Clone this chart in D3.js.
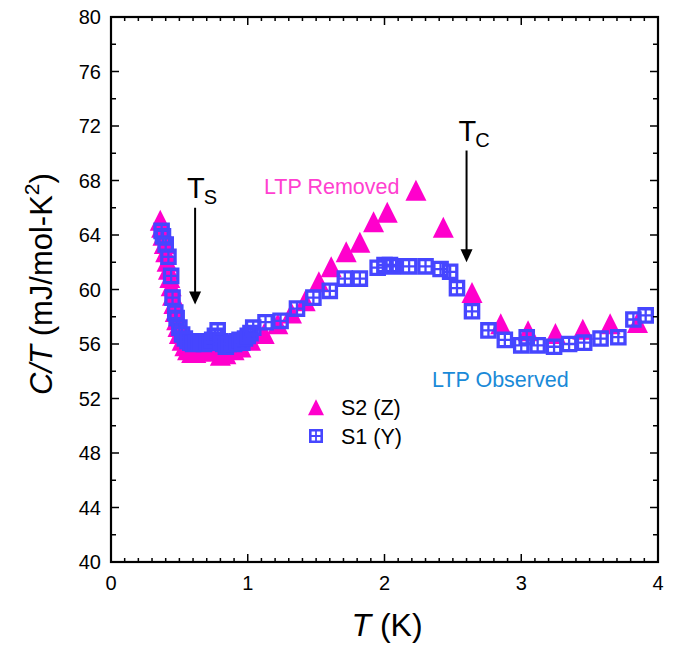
<!DOCTYPE html>
<html><head><meta charset="utf-8">
<script src="https://cdn.jsdelivr.net/npm/d3@7"></script>
<style>body{margin:0;background:#fff}svg{display:block;font-family:"Liberation Sans",Arial,sans-serif}</style>
</head><body>
<svg id="c" width="676" height="646"></svg>
<script>
const s2T = [0.36,0.37,0.38,0.39,0.40,0.41,0.42,0.43,0.44,0.45,0.46,0.47,0.48,0.49,0.50,0.52,0.54,0.56,0.59,0.62,0.66,0.70,0.75,0.80,0.84,0.90,0.95,1.02,1.12,1.22,1.32,1.42,1.52,1.61,1.72,1.82,1.92,2.02,2.23,2.43,2.64,2.85,3.05,3.25,3.45,3.65,3.85];
const s2C = [65.0,64.5,63.9,63.3,62.7,62.0,61.4,60.8,60.2,59.5,58.9,58.3,57.7,57.2,56.7,56.2,55.8,55.5,55.3,55.3,55.4,55.5,55.4,55.1,55.2,55.5,55.7,56.2,56.7,57.4,58.2,59.1,60.5,61.6,62.7,63.4,64.9,65.6,67.2,64.5,59.7,57.4,56.9,56.7,57.0,57.4,57.5];
const s1T = [0.37,0.38,0.40,0.42,0.44,0.45,0.47,0.48,0.50,0.52,0.54,0.56,0.58,0.60,0.62,0.64,0.66,0.68,0.70,0.72,0.74,0.76,0.78,0.80,0.82,0.84,0.86,0.88,0.90,0.92,0.94,0.96,0.98,1.00,1.02,1.04,1.13,1.24,1.36,1.48,1.60,1.71,1.82,1.95,2.00,2.04,2.06,2.18,2.30,2.41,2.48,2.53,2.64,2.76,2.88,3.00,3.04,3.12,3.24,3.35,3.46,3.58,3.71,3.82,3.91];
const s1C = [64.3,63.9,63.3,62.4,61.0,59.4,58.3,57.9,57.2,56.7,56.4,56.2,56.1,56.0,56.1,56.2,56.1,56.0,56.2,56.1,56.3,56.6,57.0,56.2,56.0,55.8,56.0,56.1,56.0,56.2,56.3,56.1,56.4,56.6,56.8,57.2,57.6,57.7,58.6,59.4,59.9,60.8,60.8,61.6,61.8,61.8,61.7,61.7,61.7,61.5,61.3,60.1,58.4,57.0,56.3,55.9,56.5,55.9,55.8,56.0,56.1,56.4,56.5,57.8,58.1];
const xTicks = [0,1,2,3,4];
const yTicks = [40,44,48,52,56,60,64,68,72,76,80];
const seriesNames = ["S2 (Z)","S1 (Y)"];
const annotations = [{label:"T",sub:"S",T:0.615,top:66.0,tip:58.9},{label:"T",sub:"C",T:2.60,top:70.2,tip:62.0}];

const svg = d3.select("#c");
const L=111,R=658,Tp=17,B=562;
const x = d3.scaleLinear().domain([0,4]).range([L,R]);
const y = d3.scaleLinear().domain([40,80]).range([B,Tp]);
const MAG="#ff00cc", BLUE="#4646ff";

const tri = (w,h)=>`M0,${-h*0.55}L${w/2},${h*0.45}L${-w/2},${h*0.45}Z`;
svg.append("g").selectAll("path").data(s2T.map((t,i)=>[t,s2C[i]])).join("path")
  .attr("d",tri(21,21)).attr("fill",MAG)
  .attr("transform",d=>`translate(${x(d[0])},${y(d[1])})`);

function sq(s,b,c){
  const o=s, i=s-b, hc=c/2;
  let p=`M${-o},${-o}H${o}V${o}H${-o}Z`;
  const holes=[[-i,-i,-hc,-hc],[hc,-i,i,-hc],[-i,hc,-hc,i],[hc,hc,i,i]];
  holes.forEach(([x0,y0,x1,y1])=>{p+=`M${x0},${y0}H${x1}V${y1}H${x0}Z`;});
  return p;
}
svg.append("g").selectAll("path").data(s1T.map((t,i)=>[t,s1C[i]])).join("path")
  .attr("d",sq(8.3,3.3,2.3)).attr("fill",BLUE).attr("fill-rule","evenodd")
  .attr("transform",d=>`translate(${x(d[0])},${y(d[1])})`);

const ax=svg.append("g");
const minorX=d3.range(0,41).map(v=>v/10), minorY=d3.range(40,81,2);
minorX.forEach(v=>{const maj=Math.abs(v-Math.round(v))<1e-6;const len=maj?8:4;
  ax.append("line").attr("x1",x(v)).attr("x2",x(v)).attr("y1",B).attr("y2",B-len).attr("stroke","#000").attr("stroke-width",1.5);
  ax.append("line").attr("x1",x(v)).attr("x2",x(v)).attr("y1",Tp).attr("y2",Tp+len).attr("stroke","#000").attr("stroke-width",1.5);});
minorY.forEach(v=>{const maj=v%4===0;const len=maj?8:5;
  ax.append("line").attr("y1",y(v)).attr("y2",y(v)).attr("x1",L).attr("x2",L+len).attr("stroke","#000").attr("stroke-width",1.5);
  ax.append("line").attr("y1",y(v)).attr("y2",y(v)).attr("x1",R).attr("x2",R-len).attr("stroke","#000").attr("stroke-width",1.5);});
ax.append("rect").attr("x",L).attr("y",Tp).attr("width",R-L).attr("height",B-Tp).attr("fill","none").attr("stroke","#000").attr("stroke-width",2.2);

svg.append("g").selectAll("text").data(xTicks).join("text")
  .attr("x",d=>x(d)).attr("y",B+28).attr("text-anchor","middle").attr("font-size",20).text(d=>d);
svg.append("g").selectAll("text").data(yTicks).join("text")
  .attr("x",L-10).attr("y",d=>y(d)+7).attr("text-anchor","end").attr("font-size",20).text(d=>d);

const xt=svg.append("text").attr("x",387).attr("y",636).attr("text-anchor","middle").attr("font-size",32);
xt.append("tspan").attr("font-style","italic").text("T");
xt.append("tspan").text(" (K)");
const yt=svg.append("text").attr("transform","translate(52,284) rotate(-90)").attr("text-anchor","middle").attr("font-size",31);
yt.append("tspan").attr("font-style","italic").text("C/T");
yt.append("tspan").text(" (mJ/mol-K");
yt.append("tspan").attr("font-size",21).attr("dy",-13).text("2");
yt.append("tspan").attr("dy",13).text(")");

annotations.forEach(a=>{
  const ax0=x(a.T), yt0=y(a.top), yt1=y(a.tip);
  const t=svg.append("text").attr("x",ax0-8).attr("y",yt0-10).attr("font-size",29);
  t.append("tspan").text(a.label);
  t.append("tspan").attr("font-size",20).attr("dx",-1).attr("dy",6).text(a.sub);
  svg.append("line").attr("x1",ax0).attr("x2",ax0).attr("y1",yt0).attr("y2",yt1-10).attr("stroke","#000").attr("stroke-width",2);
  svg.append("path").attr("d",`M${ax0-6},${yt1-13}L${ax0+6},${yt1-13}L${ax0},${yt1}Z`).attr("fill","#000");
});
svg.append("text").attr("x",264).attr("y",194).attr("font-size",21.5).attr("fill","#ff40d0").text("LTP Removed");
svg.append("text").attr("x",432).attr("y",387).attr("font-size",21.5).attr("fill","#1a8ad8").text("LTP Observed");

const lg=svg.append("g");
lg.append("path").attr("d",tri(16,16)).attr("fill",MAG).attr("transform","translate(316,408)");
lg.append("text").attr("x",341).attr("y",415).attr("font-size",21.5).text(seriesNames[0]);
lg.append("path").attr("d",sq(7,2.6,1.8)).attr("fill",BLUE).attr("fill-rule","evenodd").attr("transform","translate(316,436)");
lg.append("text").attr("x",341).attr("y",444).attr("font-size",21.5).text(seriesNames[1]);
</script>
</body></html>
